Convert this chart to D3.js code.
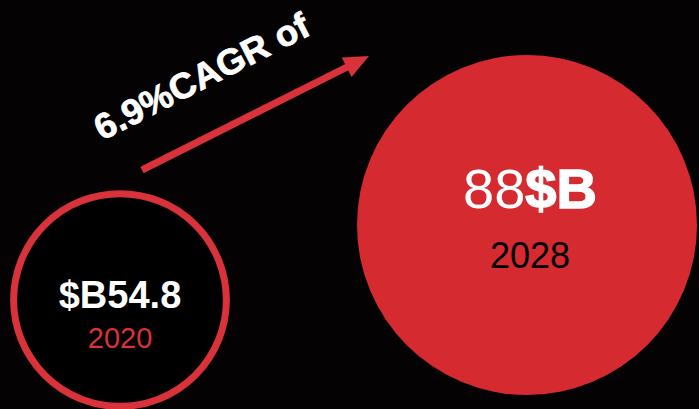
<!DOCTYPE html>
<html>
<head>
<meta charset="utf-8">
<title>Market size 2020 - 2028</title>
<style>
  html, body { margin: 0; padding: 0; background: #040202; }
  svg { display: block; }
</style>
</head>
<body>
<script src="https://cdn.jsdelivr.net/npm/d3@7"></script>
<script>
// données
var years = [2020, 2028];
var values = [54.8, 88];
var cagr = 6.9;

var width = 699, height = 409;
var red = "#d62a31";

var svg = d3.select("body").append("svg")
    .attr("width", width)
    .attr("height", height);

svg.append("rect").attr("width", width).attr("height", height).attr("fill", "#040202");

// échelles
var x = d3.scaleLinear().domain([2020, 2028]).range([120, 527]);
var y = d3.scaleLinear().domain([54.8, 88]).range([300, 225]);
var r = d3.scaleLinear().domain([0, 88]).range([0, 170]);

var data = years.map(function(d, i) { return {year: d, value: values[i], i: i}; });

var g = svg.selectAll("g.bubble").data(data).enter().append("g")
    .attr("class", "bubble")
    .attr("transform", function(d) { return "translate(" + x(d.year) + "," + y(d.value) + ")"; });

// cercles : le premier est vide avec bordure, le second plein
g.append("circle")
    .attr("r", function(d) { return d.i === 0 ? r(d.value) + 0.5 : r(d.value); })
    .attr("fill", function(d) { return d.i === 0 ? "#000" : red; })
    .attr("stroke", function(d) { return d.i === 0 ? "#d9323a" : "none"; })
    .attr("stroke-width", 7);

// valeur 2020
var left = g.filter(function(d) { return d.i === 0; });
left.append("text")
    .attr("text-anchor", "middle")
    .attr("y", 8)
    .attr("font-family", "Liberation Sans, Arial, sans-serif")
    .attr("font-weight", "bold")
    .attr("font-size", 38)
    .attr("fill", "#fff")
    .text(function(d) { return "$B" + d.value; });
left.append("text")
    .attr("text-anchor", "middle")
    .attr("y", 48)
    .attr("font-family", "Liberation Sans, Arial, sans-serif")
    .attr("font-size", 29)
    .attr("fill", "#d9323a")
    .text(function(d) { return d.year; });

// valeur 2028
var right = g.filter(function(d) { return d.i === 1; });
var rt = right.append("text")
    .attr("text-anchor", "middle")
    .attr("x", 3)
    .attr("y", -17)
    .attr("font-family", "Liberation Sans, Arial, sans-serif")
    .attr("font-size", 56)
    .attr("fill", "#fff");
rt.append("tspan").text(function(d) { return d.value; });
rt.append("tspan")
    .attr("font-weight", "bold")
    .attr("stroke", "#fff")
    .attr("stroke-width", 1.5)
    .text("$B");
right.append("text")
    .attr("text-anchor", "middle")
    .attr("x", 3)
    .attr("y", 43)
    .attr("font-family", "Liberation Sans, Arial, sans-serif")
    .attr("font-size", 36)
    .attr("fill", "#000")
    .text(function(d) { return d.year; });

// flèche CAGR
var x0 = 142, y0 = 170, x1 = 369, y1 = 56;
var ang = Math.atan2(y1 - y0, x1 - x0);
var headL = 25, headW = 11;
var bx = x1 - headL * Math.cos(ang), by = y1 - headL * Math.sin(ang);
svg.append("line")
    .attr("x1", x0).attr("y1", y0)
    .attr("x2", bx + 2 * Math.cos(ang)).attr("y2", by + 2 * Math.sin(ang))
    .attr("stroke", "#d9323a")
    .attr("stroke-width", 7);
svg.append("path")
    .attr("d", d3.line()([
        [x1, y1],
        [bx - headW * Math.sin(ang), by + headW * Math.cos(ang)],
        [bx + headW * Math.sin(ang), by - headW * Math.cos(ang)]
    ]) + "Z")
    .attr("fill", "#d9323a");

svg.append("text")
    .attr("transform", "translate(102,141) rotate(-27)")
    .attr("font-family", "Liberation Sans, Arial, sans-serif")
    .attr("font-weight", "bold")
    .attr("font-size", 36)
    .attr("textLength", 236)
    .attr("lengthAdjust", "spacingAndGlyphs")
    .attr("stroke", "#fff")
    .attr("stroke-width", 0.8)
    .attr("fill", "#fff")
    .text(cagr + "%CAGR of");
</script>
</body>
</html>
